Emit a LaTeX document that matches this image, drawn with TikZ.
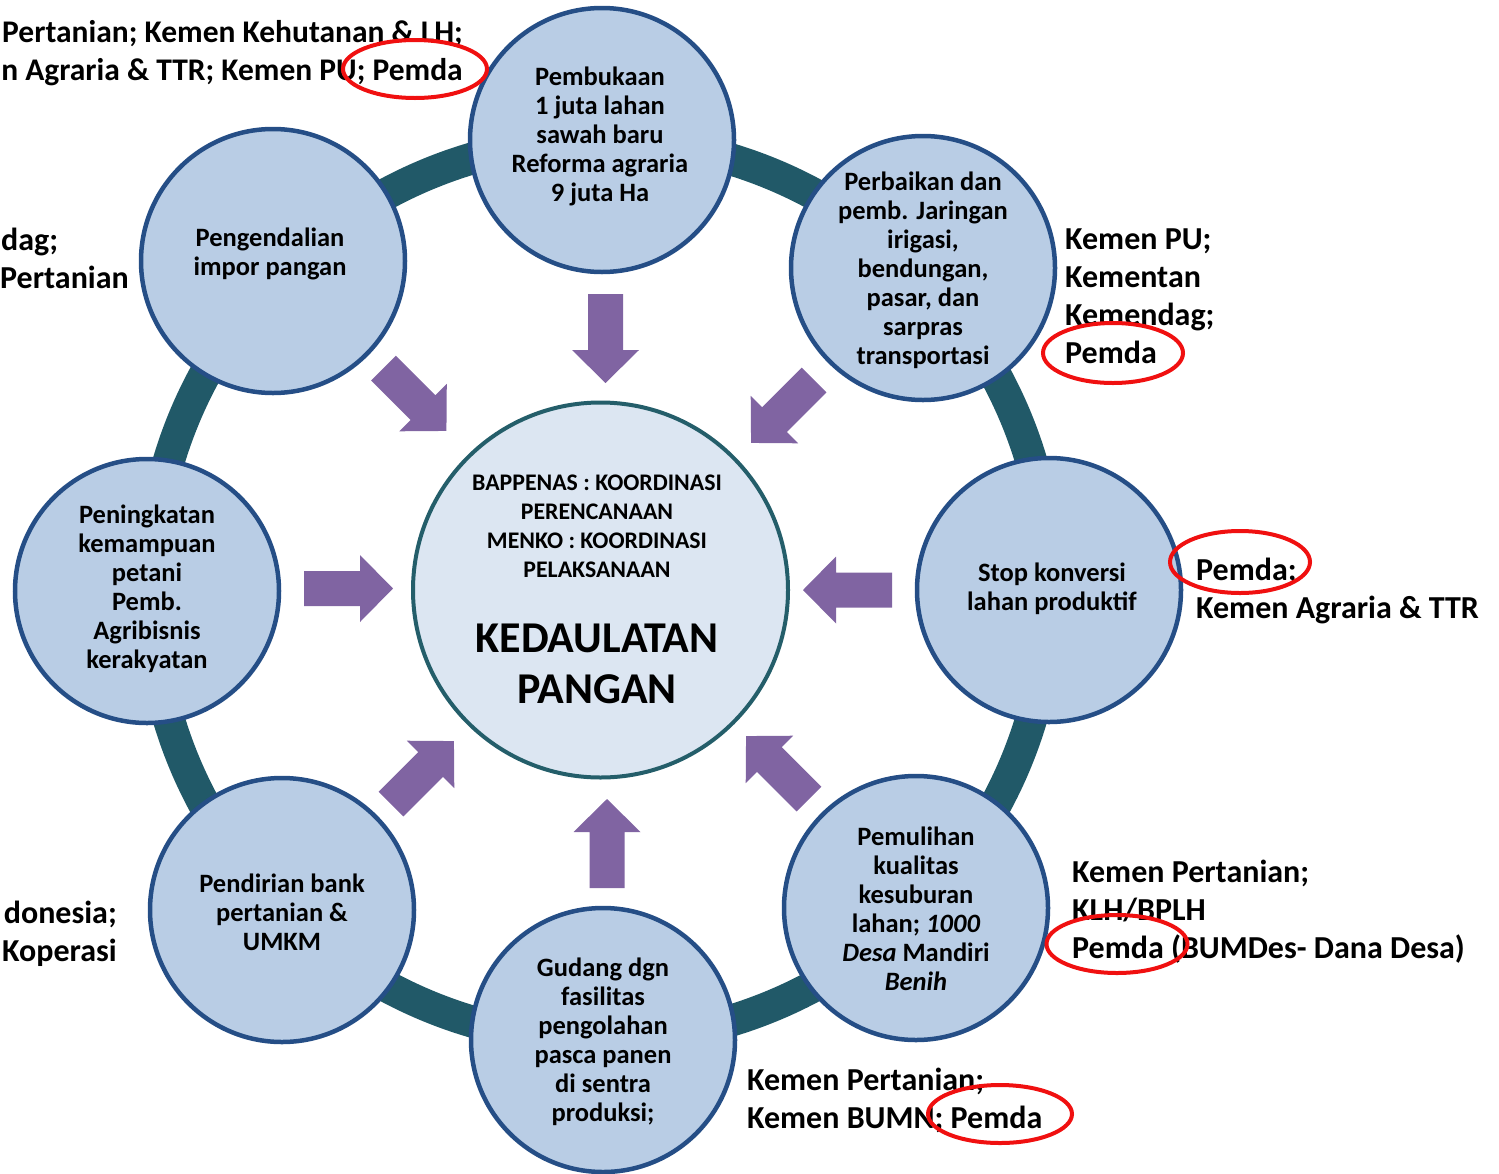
\documentclass[tikz,border=0pt]{standalone}
\usepackage{fontspec}
\setmainfont{Carlito}
\usetikzlibrary{shapes.geometric}
\definecolor{ringc}{HTML}{215968}
\definecolor{cfill}{HTML}{B9CDE5}
\definecolor{cborder}{HTML}{254E86}
\definecolor{centfill}{HTML}{DCE6F2}
\definecolor{centborder}{HTML}{245E6A}
\definecolor{arrc}{HTML}{8064A2}
\definecolor{redc}{HTML}{F01010}
\tikzset{
  outercirc/.style={circle, draw=cborder, fill=cfill, line width=4.5pt, minimum size=264pt, inner sep=0pt},
  centcirc/.style={circle, draw=centborder, fill=centfill, line width=4pt, minimum size=375pt, inner sep=0pt},
  ctext/.style={font=\bfseries\fontsize{26.5}{29}\selectfont, align=center, inner sep=0pt},
  smalltext/.style={font=\bfseries\fontsize{23.8}{29}\selectfont, align=center, inner sep=0pt, anchor=base},
  bigtext/.style={font=\bfseries\fontsize{44}{51}\selectfont, align=center, inner sep=0pt, anchor=base},
  sidel/.style={font=\bfseries\fontsize{32}{38}\selectfont, align=left, inner sep=0pt, anchor=base west},
  sider/.style={font=\bfseries\fontsize{32}{38}\selectfont, align=right, inner sep=0pt, anchor=base east},
  redring/.style={ellipse, draw=redc, line width=4pt, inner sep=0pt},
  blockarr/.pic={\fill[arrc] (0,-17.5) -- (56,-17.5) -- (56,-33.5) -- (89,0) -- (56,33.5) -- (56,17.5) -- (0,17.5) -- cycle;}
}
\begin{document}
\begin{tikzpicture}[x=1pt,y=-1pt]
\useasboundingbox (0,0) rectangle (1499,1173);
\clip (0,0) rectangle (1499,1173);
% ring
\draw[ringc, line width=32pt] (600,590) circle[radius=450];
% outer circles
\node[outercirc] (n1) at (602,140) {};
\node[outercirc] (n2) at (923,268) {};
\node[outercirc] (n3) at (1049,590) {};
\node[outercirc] (n4) at (916,908) {};
\node[outercirc] (n5) at (603,1040) {};
\node[outercirc] (n6) at (282,910) {};
\node[outercirc] (n7) at (147,591) {};
\node[outercirc] (n8) at (273,261) {};
% centre
\node[centcirc] (c) at (600.5,590) {};
% circle texts
\node[ctext] (t1) at (600,136) {Pembukaan\\1 juta lahan\\sawah baru\\Reforma agraria\\9 juta Ha};
\node[ctext] (t2) at (923,270) {Perbaikan dan\\pemb. Jaringan\\irigasi,\\bendungan,\\pasar, dan\\sarpras\\transportasi};
\node[ctext] (t3) at (1052,589) {Stop konversi\\lahan produktif};
\node[ctext] (t4) at (916,909) {Pemulihan\\kualitas\\kesuburan\\lahan; \textit{1000}\\\textit{Desa} Mandiri\\\textit{Benih}};
\node[ctext] (t5) at (603,1042) {Gudang dgn\\fasilitas\\pengolahan\\pasca panen\\di sentra\\produksi;};
\node[ctext] (t6) at (282,912) {Pendirian bank\\pertanian \&\\UMKM};
\node[ctext] (t7) at (147,589) {Peningkatan\\kemampuan\\petani\\Pemb.\\Agribisnis\\kerakyatan};
\node[ctext] (t8) at (270,254) {Pengendalian\\impor pangan};
% centre texts
\node[smalltext] (ct1) at (597,577) {BAPPENAS : KOORDINASI\\PERENCANAAN\\MENKO : KOORDINASI\\PELAKSANAAN};
\node[bigtext] (ct2) at (597,703) {KEDAULATAN\\PANGAN};
% arrows
\pic[rotate=-90] at (605.5,294) {blockarr};
\pic[rotate=-135] at (814,380) {blockarr};
\pic[rotate=180] at (892,590) {blockarr};
\pic[rotate=135] at (809,799) {blockarr};
\pic[rotate=90] at (607,888) {blockarr};
\pic[rotate=45] at (391,804) {blockarr};
\pic[rotate=0] at (304,588.5) {blockarr};
\pic[rotate=-45] at (383.5,368) {blockarr};
% side labels
\node[sider, font=\bfseries\fontsize{31.5}{38}\selectfont] (s1) at (463,80) {Pertanian; Kemen Kehutanan \& LH;\\n Agraria \& TTR; Kemen PU; Pemda};
\node[sidel] (s2) at (1065,363) {Kemen PU;\\Kementan\\Kemendag;\\Pemda};
\node[sidel] (s3) at (1196,618) {Pemda;\\Kemen Agraria \& TTR};
\node[sidel] (s4) at (1072,958) {Kemen Pertanian;\\KLH/BPLH\\Pemda (BUMDes- Dana Desa)};
\node[sidel] (s5) at (747,1128) {Kemen Pertanian;\\Kemen BUMN; Pemda};
\node[sidel] (s6) at (1,250) {dag;};
\node[sidel] (s6b) at (0,288) {Pertanian};
\node[sider] (s7) at (117,961) {donesia;\\Koperasi};
% red ellipses
\node[redring, minimum width=144pt, minimum height=58pt] (e1) at (415,69) {};
\node[redring, minimum width=140pt, minimum height=60pt] (e2) at (1113,353) {};
\node[redring, minimum width=140pt, minimum height=62pt] (e3) at (1240,562) {};
\node[redring, minimum width=141pt, minimum height=58pt] (e4) at (1117,944) {};
\node[redring, minimum width=144pt, minimum height=58pt] (e5) at (1000,1114) {};
\end{tikzpicture}
\end{document}
